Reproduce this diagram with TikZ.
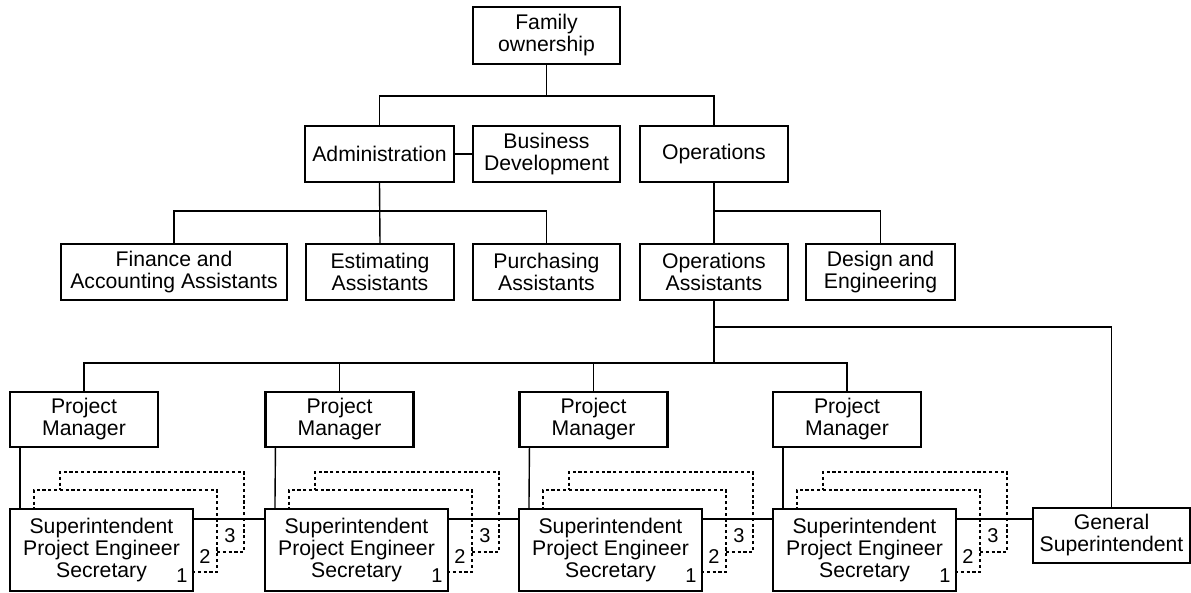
\documentclass[tikz,border=0pt]{standalone}
\usepackage{fontspec}
\setmainfont{Liberation Sans}
\usetikzlibrary{calc}
\begin{document}
\begin{tikzpicture}[x=1pt,y=-1pt,
  box/.style={draw, line width=2.1pt, inner sep=0pt, align=center,
    font=\fontsize{21.2}{22}\selectfont},
  link/.style={line width=1.4pt},
  loop/.style={line width=1.6pt, dash pattern=on 3.2pt off 2.6pt},
  num/.style={inner sep=0pt, font=\fontsize{20}{20}\selectfont}]
\useasboundingbox (0,0) rectangle (1191,593);

% top levels
\node[box, minimum width=147, minimum height=57] (fam) at (546.5,35.5) {Family\\ownership};
\node[box, minimum width=149, minimum height=56] (adm) at (379.5,154) {Administration};
\node[box, minimum width=147, minimum height=56] (bd)  at (546.5,154) {Business\\Development};
\node[box, minimum width=148, minimum height=56] (ops) at (714,154) {Operations};

% assistants
\node[box, minimum width=226, minimum height=56] (fin) at (174,272) {Finance and\\Accounting Assistants};
\node[box, minimum width=148, minimum height=56] (est) at (380,272) {Estimating\\Assistants};
\node[box, minimum width=147, minimum height=56] (pur) at (546.5,272) {Purchasing\\Assistants};
\node[box, minimum width=148, minimum height=56] (opa) at (714,272) {Operations\\Assistants};
\node[box, minimum width=149, minimum height=56] (des) at (880.5,272) {Design and\\Engineering};

% project managers
\foreach \n/\cx in {1/84, 2/339.5, 3/593.5, 4/847}
  \node[box, minimum width=148, minimum height=55] (pm\n) at (\cx,419.5) {Project\\Manager};

% site teams
\foreach \n/\cx in {1/101.5, 2/356.5, 3/610.5, 4/864.5}
  \node[box, minimum width=183, minimum height=82] (su\n) at (\cx,550)
    {Superintendent\\Project Engineer\\Secretary};
\node[box, minimum width=157, minimum height=55] (gs) at (1111.5,535.5) {General\\Superintendent};

% bar levels
\coordinate (topbar) at (0,96);
\coordinate (midbar) at (0,211);
\coordinate (gsbar)  at (0,327);
\coordinate (pmbar)  at (0,363);

% connectors
\draw[link] (fam.south) -- (fam.south |- topbar);
\draw[link] (adm.north) |- (topbar -| ops.north) -- (ops.north);
\draw[link] (adm.east) -- (bd.west);
\draw[link] (fin.north) |- (midbar -| pur.north) -- (pur.north);
\draw[link] (adm.south) -- (est.north);
\draw[link] (ops.south) -- (opa.north);
\draw[link] (ops.south |- midbar) -| (des.north);
\draw[link] (opa.south) -- (opa.south |- pmbar);
\draw[link] (opa.south |- gsbar) -| (gs.north);
\draw[link] (pm1.north) |- (pmbar -| pm4.north) -- (pm4.north);
\draw[link] (pm2.north) -- (pm2.north |- pmbar);
\draw[link] (pm3.north) -- (pm3.north |- pmbar);

\foreach \n in {1,2,3,4}
  \draw[link] ($(pm\n.south west)+(11,0)$) -- ($(su\n.north west)+(11,0)$);

\draw[link] ($(su1.north east)+(0,11)$) -- ($(su2.north west)+(0,11)$);
\draw[link] ($(su2.north east)+(0,11)$) -- ($(su3.north west)+(0,11)$);
\draw[link] ($(su3.north east)+(0,11)$) -- ($(su4.north west)+(0,11)$);
\draw[link] ($(su4.north east)+(0,11)$) -- ($(gs.north west)+(0,12)$);

% rotation loops on each site team
\foreach \n in {1,2,3,4} {
  \coordinate (o) at (su\n.north west);
  \draw[loop] ($(o)+(183,64)$) -- ($(o)+(208,64)$) -- ($(o)+(208,-18)$)
     -- ($(o)+(25,-18)$) -- ($(o)+(25,0)$);
  \draw[loop] ($(o)+(208,44)$) -- ($(o)+(235,44)$) -- ($(o)+(235,-36)$)
     -- ($(o)+(51,-36)$) -- ($(o)+(51,-18)$);
  \node[num] (one\n)   at ($(o)+(173,68)$) {1};
  \node[num] (two\n)   at ($(o)+(196,49)$) {2};
  \node[num] (three\n) at ($(o)+(221,28)$) {3};
}
\end{tikzpicture}
\end{document}
